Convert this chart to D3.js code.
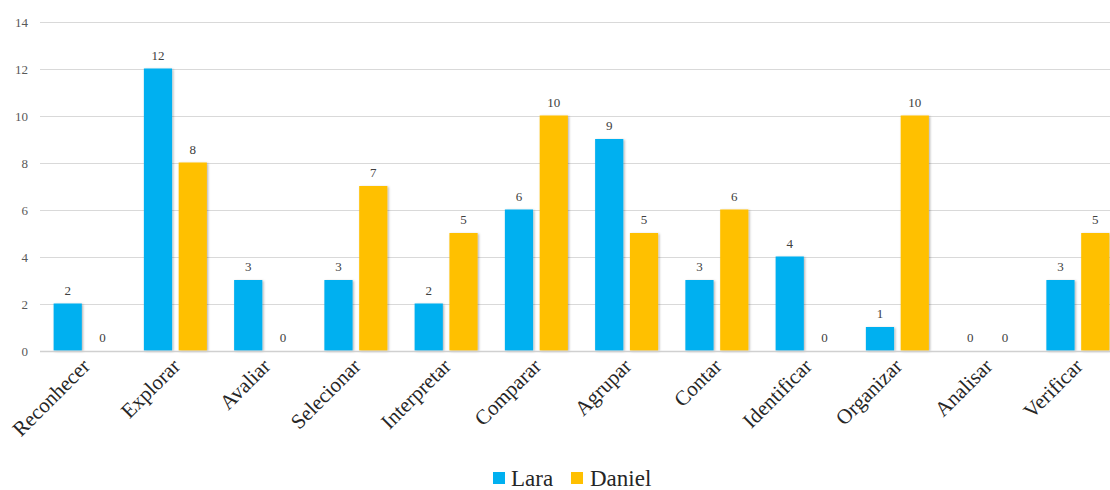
<!DOCTYPE html>
<html>
<head>
<meta charset="utf-8">
<script src="https://cdn.jsdelivr.net/npm/d3@7"></script>
<style>
  html, body { margin: 0; padding: 0; background: #fff; }
  svg { display: block; }
  svg text { font-family: "Liberation Serif", "Times New Roman", serif; }
</style>
</head>
<body>
<svg id="chart" width="1110" height="490"></svg>
<script>
// Categories and counts per student
const categories = ["Reconhecer", "Explorar", "Avaliar", "Selecionar", "Interpretar", "Comparar",
                    "Agrupar", "Contar", "Identificar", "Organizar", "Analisar", "Verificar"];
const lara   = [2, 12, 3, 3, 2, 6, 9, 3, 4, 1, 0, 3];
const daniel = [0, 8, 0, 7, 5, 10, 5, 6, 0, 10, 0, 5];
const seriesNames = ["Lara", "Daniel"];
const yTicks = [0, 2, 4, 6, 8, 10, 12, 14];

const colors = { Lara: "#00B0F0", Daniel: "#FFC000" };
const SERIF = "Liberation Serif";

const svg = d3.select("#chart");

const plotLeft = 40, plotRight = 1123, plotTop = 21.5, plotBottom = 350.5;

const x = d3.scaleBand().domain(categories).range([plotLeft, plotRight]).paddingInner(0).paddingOuter(0);
const bw = x.bandwidth();
const x1 = d3.scaleBand().domain(seriesNames).range([bw / 2 - 31.5, bw / 2 + 31.5]).paddingInner(0.19).paddingOuter(0);
const y = d3.scaleLinear().domain([0, 14]).range([plotBottom, plotTop]);

// soft drop shadow on bars
const defs = svg.append("defs");
const f = defs.append("filter").attr("id", "shadow").attr("x", "-30%").attr("y", "-10%").attr("width", "160%").attr("height", "120%");
f.append("feDropShadow").attr("dx", 1.2).attr("dy", 0.8).attr("stdDeviation", 1.2)
  .attr("flood-color", "#000").attr("flood-opacity", 0.3);

// gridlines
svg.append("g").selectAll("line").data(yTicks.filter(d => d > 0)).join("line")
  .attr("x1", plotLeft).attr("x2", 1110)
  .attr("y1", d => Math.round(y(d)) + 0.5).attr("y2", d => Math.round(y(d)) + 0.5)
  .attr("stroke", "#d9d9d9").attr("stroke-width", 1);

// y axis labels
const yAxis = d3.axisLeft(y).tickValues(yTicks).tickSize(0).tickPadding(0);
const gy = svg.append("g").attr("transform", `translate(28,0)`).call(yAxis)
  .attr("font-family", SERIF);
gy.select(".domain").remove();
gy.selectAll("text").attr("font-size", 13).attr("fill", "#595959")
  .attr("font-family", SERIF).attr("dy", "0.35em");

const data = categories.map((c, i) => ({ cat: c, vals: [
  { key: "Lara", value: lara[i] }, { key: "Daniel", value: daniel[i] }] }));

const groups = svg.append("g").selectAll("g").data(data).join("g")
  .attr("transform", d => `translate(${x(d.cat)},0)`);

groups.selectAll("rect").data(d => d.vals.filter(v => v.value > 0)).join("rect")
  .attr("x", d => x1(d.key)).attr("width", x1.bandwidth())
  .attr("y", d => y(d.value)).attr("height", d => y(0) - y(d.value))
  .attr("fill", d => colors[d.key]).attr("filter", "url(#shadow)");

groups.selectAll("text").data(d => d.vals).join("text")
  .attr("x", d => x1(d.key) + x1.bandwidth() / 2)
  .attr("y", d => y(d.value) - 9)
  .attr("text-anchor", "middle").attr("font-size", 13).attr("fill", "#404040")
  .attr("font-family", SERIF)
  .text(d => d.value);

// baseline
svg.append("line").attr("x1", plotLeft).attr("x2", 1110)
  .attr("y1", Math.round(y(0)) + 0.5).attr("y2", Math.round(y(0)) + 0.5)
  .attr("stroke", "#d0d0d0").attr("stroke-width", 1.5);

// x axis labels, rotated
const xAxis = d3.axisBottom(x).tickSize(0).tickPadding(0);
const gx = svg.append("g").attr("transform", `translate(0,${plotBottom})`).call(xAxis)
  .attr("font-family", SERIF);
gx.select(".domain").remove();
gx.selectAll("text")
  .attr("font-size", 21).attr("fill", "#262626").attr("font-family", SERIF)
  .attr("text-anchor", "end")
  .attr("dy", null).attr("y", null)
  .attr("transform", "translate(6,17) rotate(-45)");

// legend
const legend = svg.append("g").attr("transform", "translate(493,472)");
const items = [{ name: "Lara", x: 0, tx: 18 }, { name: "Daniel", x: 78, tx: 97 }];
legend.selectAll("rect").data(items).join("rect")
  .attr("x", d => d.x).attr("y", 0).attr("width", 12).attr("height", 12)
  .attr("fill", d => colors[d.name]);
legend.selectAll("text").data(items).join("text")
  .attr("x", d => d.tx).attr("y", 13.5)
  .attr("font-size", 23).attr("fill", "#262626").attr("font-family", SERIF)
  .text(d => d.name);
</script>
</body>
</html>
